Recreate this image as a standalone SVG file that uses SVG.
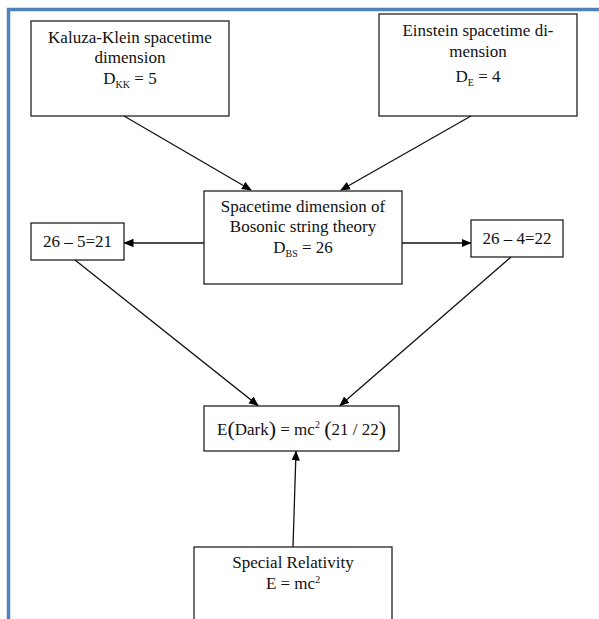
<svg xmlns="http://www.w3.org/2000/svg" width="599" height="619" viewBox="0 0 599 619">
<defs>
<marker id="ah" markerWidth="10" markerHeight="10" refX="9" refY="5" orient="auto" markerUnits="userSpaceOnUse">
<path d="M0,0.8 L10,5 L0,9.2 Z" fill="#000"/>
</marker>
<style>
.box{fill:#fff;stroke:#222;stroke-width:1.3}
.t{font-family:"Liberation Serif","Times New Roman",serif;font-size:17px;fill:#111;text-anchor:middle}
.sub{font-size:10px}
.sup{font-size:10px}
.con{stroke:#111;stroke-width:1.3;fill:none;marker-end:url(#ah)}
.frame{stroke:#4f81bd;stroke-width:3.5;fill:none}
</style>
</defs>
<rect width="599" height="619" fill="#fff"/>
<path class="frame" d="M8.5,619 V9.5 H599"/>

<g id="kk">
<rect class="box" x="31" y="21" width="198" height="95"/>
<text class="t" x="130" y="43">Kaluza-Klein spacetime</text>
<text class="t" x="130" y="63">dimension</text>
<text class="t" x="130" y="84">D<tspan class="sub" dy="4">KK</tspan><tspan dy="-4"> = 5</tspan></text>
</g>

<g id="einstein">
<rect class="box" x="379" y="14" width="198" height="102"/>
<text class="t" x="478" y="36">Einstein spacetime di-</text>
<text class="t" x="478" y="57">mension</text>
<text class="t" x="478" y="82">D<tspan class="sub" dy="4">E</tspan><tspan dy="-4"> = 4</tspan></text>
</g>

<g id="bosonic">
<rect class="box" x="204" y="191" width="198" height="93"/>
<text class="t" x="303" y="212">Spacetime dimension of</text>
<text class="t" x="303" y="232">Bosonic string theory</text>
<text class="t" x="303" y="253">D<tspan class="sub" dy="4">BS</tspan><tspan dy="-4"> = 26</tspan></text>
</g>

<g id="left">
<rect class="box" x="31" y="223" width="93" height="37"/>
<text class="t" x="77.5" y="247">26 – 5=21</text>
</g>

<g id="right">
<rect class="box" x="471" y="220" width="92" height="37"/>
<text class="t" x="517" y="244">26 – 4=22</text>
</g>

<g id="dark">
<rect class="box" x="204" y="406" width="195" height="45"/>
<text class="t" x="301.5" y="435">E<tspan font-size="22" dy="1">(</tspan><tspan dy="-1">Dark</tspan><tspan font-size="22" dy="1">)</tspan><tspan dy="-1"> = mc</tspan><tspan class="sup" dy="-7">2</tspan><tspan dy="7"> </tspan><tspan font-size="22" dy="1">(</tspan><tspan dy="-1">21 / 22</tspan><tspan font-size="22" dy="1">)</tspan></text>
</g>

<g id="sr">
<rect class="box" x="194" y="547" width="198" height="90"/>
<text class="t" x="293" y="568">Special Relativity</text>
<text class="t" x="293" y="589" font-size="14">E = mc<tspan class="sup" font-size="9" dy="-6">2</tspan></text>
</g>

<g id="connectors">
<line class="con" x1="124" y1="116" x2="251" y2="190"/>
<line class="con" x1="471" y1="116" x2="341" y2="190"/>
<line class="con" x1="204" y1="243" x2="124.5" y2="243"/>
<line class="con" x1="402" y1="243" x2="470.5" y2="243"/>
<line class="con" x1="75" y1="260" x2="258" y2="405.5"/>
<line class="con" x1="511" y1="257" x2="340" y2="405.5"/>
<line class="con" x1="293" y1="547" x2="296" y2="451.5"/>
</g>
</svg>
